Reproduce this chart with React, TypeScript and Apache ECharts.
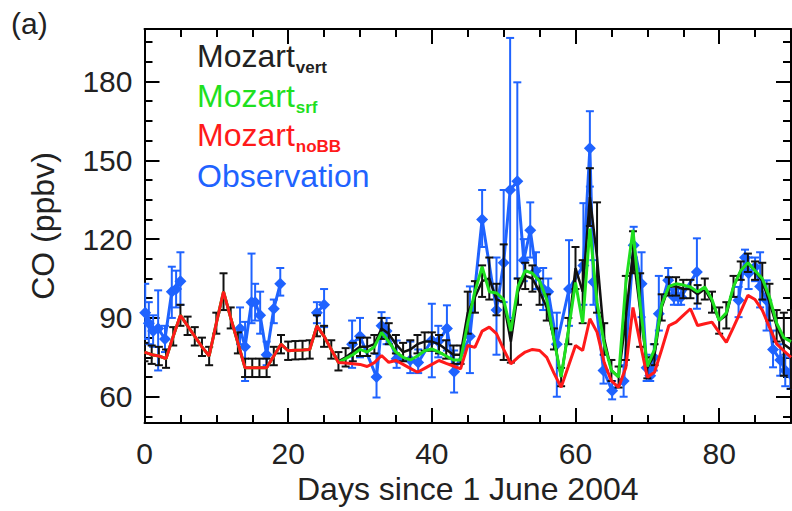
import React, { useEffect, useRef } from 'react';
import * as echarts from 'echarts';

// ---------------- data ----------------
const modelDays = [
  0, 1, 2, 3, 4, 5, 6, 7, 8, 9, 10, 11, 12, 13, 14, 15, 16, 17, 18, 19, 20,
  21, 22, 23, 24, 25, 26, 27, 28, 29, 30, 31, 32, 33, 34, 35, 36, 37, 38, 39, 40,
  41, 42, 43, 44, 45, 46, 47, 48, 49, 50, 51, 52, 53, 54, 55, 56, 57, 58, 59, 60,
  61, 62, 63, 64, 65, 66, 67, 68, 69, 70, 71, 72, 73, 74, 75, 76, 77, 78, 79, 80,
  81, 82, 83, 84, 85, 86, 87, 88, 89, 90,
];

const vertValues = [
  77, 76, 75.5, 74.5, 83, 91, 87, 83, 79, 75.5, 88,
  100, 90, 80.5, 71, 71, 71, 71, 75.5, 80, 77.5,
  77.7, 77.8, 78, 87, 83, 78, 73.5, 75, 77, 79,
  79, 80, 86, 84, 80, 77, 78, 80, 81, 81,
  80, 78, 76, 76, 92, 98, 104, 105, 97, 96,
  81, 100, 106, 105, 100, 94, 82, 67.5, 85, 109,
  100, 136, 113, 82, 70, 67.5, 90, 115, 93, 71,
  76, 94, 102, 102, 101, 101, 99, 101, 96, 89,
  91, 102, 108, 111, 108, 104, 96, 87, 80, 78,
];

const vertErrors = [
  3.5, 3.5, 3.5, 3.5, 3.5, 4, 3.5, 3.5, 3.5, 3.5, 4,
  7, 4, 4, 3.5, 3.5, 3.5, 3.5, 3.5, 3.5, 3.5,
  3.5, 3.5, 3.5, 4, 4, 3.5, 3.5, 3.5, 3.5, 3.5,
  3.5, 3.5, 4, 4, 3.5, 3.5, 3.5, 3.5, 3.5, 3.5,
  3.5, 3.5, 3.5, 3.5, 8, 6, 6, 8, 6, 22,
  8, 5, 5, 5, 5, 5, 4, 3.5, 5, 8,
  12, 11, 21, 6, 4, 4, 16, 8, 14, 4,
  4, 5, 3.5, 3.5, 3.5, 3.5, 3.5, 4, 4, 5,
  5, 4, 3.5, 3.5, 3.5, 7, 7, 6, 12, 15,
];

const srfValues = [
  77, 76, 75.5, 74.5, 83, 91, 87, 83, 79, 75.5, 88,
  100, 90, 80.5, 71, 71, 71, 71, 75.5, 80, 77.5,
  77.7, 77.8, 78, 87, 83, 78, 73, 74.5, 76, 78,
  77, 79, 84.5, 81, 77, 75, 74, 75.5, 77.5, 78.2,
  77, 75.5, 74, 74, 88, 100, 109.5, 100, 99.5, 97,
  85, 102, 108, 107, 104, 97, 82, 67.5, 85, 103.5,
  88, 124, 96, 80, 70, 67.5, 103, 123.5, 95, 71.5,
  78, 95, 102, 103, 102.5, 101.8, 100, 101.8, 97, 89,
  92, 102, 108, 111, 108, 105, 98, 88, 82.5, 81,
];

const noBBValues = [
  77, 76, 75.5, 74.5, 83, 91, 87, 83, 79, 75.5, 88,
  100, 90, 80.5, 71, 71, 71, 71, 75.5, 80, 77.5,
  77.7, 77.8, 78, 87, 83, 78, 73, 72.8, 72.6, 72.3,
  71.5, 73, 75.7, 73.1, 73.8, 72.3, 70.8, 69.3, 70.8, 72.3,
  73.8, 72.7, 71.7, 70.6, 79.5, 78.8, 85, 86.5, 84, 78,
  72.5, 75, 77, 78, 77.6, 75, 69, 63.6, 71.5, 79.5,
  77.6, 89.7, 84.6, 73, 66, 63.6, 71, 94, 80.5, 67.4,
  69.3, 78, 87.1, 88.4, 91, 93.5, 87.1, 87.8, 88.4, 84.5,
  80.7, 86.5, 92.5, 98.6, 97, 93, 86.5, 80.1, 77.5, 75,
];

const obsDays = [
  0.1, 0.6, 1.2, 1.9, 2.85, 3.8, 4.4, 5.0,
  13.3, 14.0, 14.9, 15.4, 16.1, 17.0, 18.0, 18.9,
  24.0, 25.0,
  28.9, 30.0, 32.3, 33.0, 33.7, 35.1, 37.0, 38.1, 40.0, 40.9, 42.1, 43.1,
  45.3, 47.0, 49.0, 50.0, 50.9, 51.9, 52.8, 53.7, 54.5, 55.5, 56.2, 57.4,
  59.1, 61.1, 62.0, 62.5, 63.9, 65.1, 66.7, 68.1, 69.2, 69.9, 70.4, 70.9,
  71.6, 72.9, 73.7, 74.3, 74.7, 76.9,
  82.7, 83.6, 84.1, 85.0, 85.7, 86.6, 87.5, 88.5, 89.2, 89.9,
];
const obsValues = [
  92, 88, 85, 86, 82, 100, 101, 104,
  86, 79, 96, 96, 91, 76, 93.5, 103,
  92, 95,
  80, 83, 67.5, 87, 85, 74.5, 74, 73, 81.5, 81, 86, 69.5,
  83, 127.5, 93, 111, 138.7, 142, 112, 123.4, 108, 101, 100, 80,
  101, 110, 154.6, 103.7, 70, 62.3, 66, 117.7, 103, 71, 68, 75,
  91.6, 104.3, 98, 98, 98, 107.5,
  96.7, 113, 107, 109.4, 102, 96.7, 78, 74, 70, 68.7,
];
const obsLow = [
  82, 80, 79, 70, 77, 90, 94, 95,
  80, 66, 88, 89, 84, 72, 88, 98.5,
  88, 86.5,
  71, 75, 59.7, 82.7, 80, 71, 69, 69, 67.4, 75, 77.6, 61.6,
  69, 117, 76, 96, 90, 105, 104, 113, 101, 93, 93, 60,
  87, 95, 140, 95, 65, 59, 60, 113, 90.3, 66, 66, 70,
  85.2, 99.4, 95, 95, 95, 93.5,
  90.3, 108, 101, 104, 94, 85.2, 71.2, 68, 64, 63,
];
const obsHigh = [
  103, 96, 91, 100.5, 87, 109.5, 108, 115,
  94, 88.5, 114.5, 103, 100, 81, 97, 109,
  96, 101,
  89, 90, 76.3, 92.2, 90, 81.4, 81, 78, 95.4, 87, 94.8, 77.6,
  102, 138.7, 113, 138.7, 196.6, 179.7, 120, 134, 115, 109, 105, 92,
  119.6, 133.7, 168.7, 112, 76, 66, 72, 124.7, 115, 76, 70, 80,
  106, 109, 101, 101, 101, 120.3,
  101.8, 116, 113, 113, 115, 104.3, 85.2, 80, 76, 75,
];

const xMajorTicks = [0, 20, 40, 60, 80];
const xMinorTicks = [5, 10, 15, 25, 30, 35, 45, 50, 55, 65, 70, 75, 85];
const yMajorTicks = [60, 90, 120, 150, 180];
const yMinorTicks = [52.5, 67.5, 75, 82.5, 97.5, 105, 112.5, 127.5, 135, 142.5, 157.5, 165, 172.5, 187.5, 195];

// ---------------- styling ----------------
const FONT = '"Liberation Sans", Arial, Helvetica, sans-serif';
const TEXT = '#222';
const BLUE = '#1f63ff';
const GREEN = '#1fe01f';
const RED = '#ff1a1a';
const BLACK = '#111';

const X_MIN = 0, X_MAX = 90, Y_MIN = 50, Y_MAX = 200;

const LEGEND_MAIN_SIZE = 32;
const LEGEND_SUB_SIZE = 17;

function measure(text: string, size: number, weight = 'normal'): number {
  try {
    const ctx = document.createElement('canvas').getContext('2d');
    if (ctx) {
      ctx.font = `${weight} ${size}px ${FONT}`;
      return ctx.measureText(text).width;
    }
  } catch (e) {
    /* ignore */
  }
  return text.length * size * 0.55;
}

function xAxisDef(position: string, ticks: number[], len: number, withLine: boolean, withLabels: boolean) {
  return {
    type: 'value',
    position,
    min: X_MIN,
    max: X_MAX,
    gridIndex: 0,
    axisLine: { show: withLine, onZero: false, lineStyle: { color: '#000', width: 2 } },
    axisTick: { show: true, inside: true, length: len, customValues: ticks, lineStyle: { color: '#000', width: 2 } },
    axisLabel: withLabels
      ? { show: true, customValues: xMajorTicks, fontSize: 30, color: TEXT, fontFamily: FONT, margin: 15 }
      : { show: false },
    splitLine: { show: false },
    minorTick: { show: false },
    ...(withLabels
      ? {
          name: 'Days since 1 June 2004',
          nameLocation: 'middle',
          nameGap: 50,
          nameTextStyle: { fontSize: 32, color: TEXT, fontFamily: FONT },
        }
      : {}),
  };
}

function yAxisDef(position: string, ticks: number[], len: number, withLine: boolean, withLabels: boolean) {
  return {
    type: 'value',
    position,
    min: Y_MIN,
    max: Y_MAX,
    gridIndex: 0,
    axisLine: { show: withLine, onZero: false, lineStyle: { color: '#000', width: 2 } },
    axisTick: { show: true, inside: true, length: len, customValues: ticks, lineStyle: { color: '#000', width: 2 } },
    axisLabel: withLabels
      ? { show: true, customValues: yMajorTicks, fontSize: 30, color: TEXT, fontFamily: FONT, margin: 12 }
      : { show: false },
    splitLine: { show: false },
    minorTick: { show: false },
    ...(withLabels
      ? {
          name: 'CO (ppbv)',
          nameLocation: 'middle',
          nameGap: 86,
          nameTextStyle: { fontSize: 32, color: TEXT, fontFamily: FONT },
        }
      : {}),
  };
}

function errorBarSeries(name: string, data: number[][], color: string, capHalf: number, z: number) {
  return {
    name,
    type: 'custom',
    z,
    clip: true,
    encode: { x: 0, y: [1, 2] },
    data,
    renderItem: (params: any, api: any) => {
      const x = api.value(0);
      const lo = api.value(1);
      const hi = api.value(2);
      const p1 = api.coord([x, lo]);
      const p2 = api.coord([x, hi]);
      const style = { stroke: color, lineWidth: 2 };
      return {
        type: 'group',
        children: [
          { type: 'line', shape: { x1: p1[0], y1: p1[1], x2: p2[0], y2: p2[1] }, style },
          { type: 'line', shape: { x1: p1[0] - capHalf, y1: p1[1], x2: p1[0] + capHalf, y2: p1[1] }, style },
          { type: 'line', shape: { x1: p2[0] - capHalf, y1: p2[1], x2: p2[0] + capHalf, y2: p2[1] }, style },
        ],
      };
    },
  };
}

// main text centred at yMid; subscript sits lower, to the right of it
function legendEntry(main: string, sub: string, color: string, yMid: number): any[] {
  const x0 = 197;
  const items: any[] = [
    {
      type: 'text',
      x: x0,
      y: yMid,
      z: 100,
      style: {
        text: main,
        fontSize: LEGEND_MAIN_SIZE,
        fontFamily: FONT,
        fill: color,
        align: 'left',
        verticalAlign: 'middle',
      },
    },
  ];
  if (sub) {
    items.push({
      type: 'text',
      x: x0 + measure(main, LEGEND_MAIN_SIZE) + 1,
      y: yMid + 11.5,
      z: 100,
      style: {
        text: sub,
        fontSize: LEGEND_SUB_SIZE,
        fontWeight: 'bold',
        fontFamily: FONT,
        fill: color,
        align: 'left',
        verticalAlign: 'middle',
      },
    });
  }
  return items;
}

export default function App() {
  const ref = useRef<HTMLDivElement>(null);

  useEffect(() => {
    if (!ref.current) return;
    const chart = echarts.init(ref.current, undefined, { renderer: 'svg' });

    const vertLine = modelDays.map((d, i) => [d, vertValues[i]]);
    const vertBars = modelDays.map((d, i) => [d, vertValues[i] - vertErrors[i], vertValues[i] + vertErrors[i]]);
    const srfLine = modelDays.map((d, i) => [d, srfValues[i]]);
    const noBBLine = modelDays.map((d, i) => [d, noBBValues[i]]);

    const obsLine: any[] = [];
    obsDays.forEach((d, i) => {
      if (i > 0 && d - obsDays[i - 1] > 2.5) {
        obsLine.push([(d + obsDays[i - 1]) / 2, '-']);
      }
      obsLine.push([d, obsValues[i]]);
    });
    const obsBars = obsDays.map((d, i) => [d, obsLow[i], obsHigh[i]]);

    const option: any = {
      animation: false,
      backgroundColor: '#fff',
      grid: { left: 144.5, right: 1, top: 29, bottom: 88, containLabel: false, outerBoundsMode: 'none' },
      xAxis: [
        xAxisDef('bottom', xMajorTicks, 15, true, true),
        xAxisDef('top', xMajorTicks, 15, true, false),
        xAxisDef('bottom', xMinorTicks, 8, false, false),
        xAxisDef('top', xMinorTicks, 8, false, false),
      ],
      yAxis: [
        yAxisDef('left', yMajorTicks, 15, true, true),
        yAxisDef('right', yMajorTicks, 15, true, false),
        yAxisDef('left', yMinorTicks, 8, false, false),
        yAxisDef('right', yMinorTicks, 8, false, false),
      ],
      series: [
        errorBarSeries('Observation error', obsBars, BLUE, 4, 1),
        {
          name: 'Observation',
          type: 'line',
          z: 2,
          data: obsLine,
          connectNulls: false,
          symbol: 'diamond',
          symbolSize: 12,
          showSymbol: true,
          clip: true,
          lineStyle: { color: BLUE, width: 3 },
          itemStyle: { color: BLUE },
        },
        errorBarSeries('Mozart vert error', vertBars, BLACK, 4, 3),
        {
          name: 'Mozart vert',
          type: 'line',
          z: 4,
          data: vertLine,
          symbol: 'none',
          clip: true,
          lineStyle: { color: BLACK, width: 2.5 },
          itemStyle: { color: BLACK },
        },
        {
          name: 'Mozart srf',
          type: 'line',
          z: 5,
          data: srfLine,
          symbol: 'none',
          clip: true,
          lineStyle: { color: GREEN, width: 3 },
          itemStyle: { color: GREEN },
        },
        {
          name: 'Mozart noBB',
          type: 'line',
          z: 6,
          data: noBBLine,
          symbol: 'none',
          clip: true,
          lineStyle: { color: RED, width: 3 },
          itemStyle: { color: RED },
        },
      ],
      graphic: [
        {
          type: 'text',
          x: 11,
          y: 8,
          style: { text: '(a)', fontSize: 30, fontFamily: FONT, fill: TEXT, verticalAlign: 'top' },
        },
        ...legendEntry('Mozart', 'vert', TEXT, 56),
        ...legendEntry('Mozart', 'srf', GREEN, 95.5),
        ...legendEntry('Mozart', 'noBB', RED, 135),
        ...legendEntry('Observation', '', BLUE, 176),
      ],
    };

    chart.setOption(option);
    return () => {
      chart.dispose();
    };
  }, []);

  return (
    <div
      ref={ref}
      style={{ position: 'fixed', left: 0, top: 0, width: 792, height: 511, background: '#fff' }}
    />
  );
}
